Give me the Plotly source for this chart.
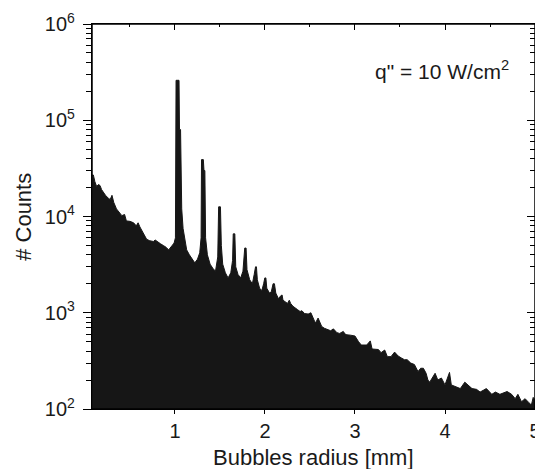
import plotly.graph_objects as go

# Bubble radius [mm]
radius_mm = [
    0.080, 0.093, 0.110, 0.130, 0.150, 0.167, 0.185, 0.200, 0.230, 0.260,
    0.280, 0.300, 0.320, 0.350, 0.380, 0.410, 0.440, 0.460, 0.500, 0.540,
    0.570, 0.590, 0.610, 0.630, 0.660, 0.685, 0.720, 0.760, 0.780, 0.810,
    0.840, 0.870, 0.900, 0.930, 0.960, 0.990, 1.005, 1.012, 1.045, 1.050,
    1.062, 1.068, 1.075, 1.090, 1.100, 1.130, 1.160, 1.185, 1.220, 1.250,
    1.275, 1.290, 1.295, 1.315, 1.322, 1.332, 1.340, 1.360, 1.390, 1.420,
    1.450, 1.475, 1.485, 1.505, 1.515, 1.530, 1.560, 1.590, 1.620, 1.640,
    1.647, 1.665, 1.675, 1.700, 1.730, 1.755, 1.775, 1.790, 1.800, 1.830,
    1.860, 1.880, 1.895, 1.905, 1.915, 1.940, 1.965, 1.985, 1.998, 2.010,
    2.020, 2.050, 2.070, 2.090, 2.105, 2.120, 2.150, 2.175, 2.190, 2.200,
    2.220, 2.250, 2.270, 2.285, 2.310, 2.340, 2.360, 2.390, 2.410, 2.440,
    2.480, 2.510, 2.530, 2.560, 2.590, 2.610, 2.630, 2.660, 2.700, 2.730,
    2.760, 2.780, 2.800, 2.830, 2.870, 2.890, 2.910, 2.950, 2.980, 3.000,
    3.040, 3.070, 3.130, 3.170, 3.190, 3.220, 3.260, 3.290, 3.330, 3.360,
    3.400, 3.440, 3.480, 3.520, 3.550, 3.580, 3.620, 3.660, 3.700, 3.730,
    3.760, 3.790, 3.810, 3.830, 3.870, 3.890, 3.920, 3.960, 4.000, 4.050,
    4.070, 4.130, 4.170, 4.220, 4.260, 4.300, 4.350, 4.390, 4.460, 4.520,
    4.560, 4.610, 4.690, 4.740, 4.780, 4.810, 4.850, 4.890, 4.930, 4.960,
    4.980, 5.000,
]

# Number of counts
counts = [
    27000, 27000, 23000, 20500, 21500, 21000, 19000, 18000, 16500, 15500,
    15000, 16600, 14000, 12000, 11000, 10200, 10500, 9000, 8900, 8600,
    8000, 8600, 7800, 7200, 6500, 5800, 5600, 5500, 5700, 5500,
    5200, 5000, 4800, 4500, 4900, 5300, 6000, 260000, 260000, 80000,
    80000, 20000, 12000, 7500, 6500, 4500, 4000, 3700, 3300, 3600,
    4200, 6000, 39000, 39000, 30000, 30000, 6000, 4000, 3200, 2900,
    2700, 3800, 12600, 12600, 5000, 3200, 2600, 2300, 2600, 3500,
    6600, 6600, 3000, 2500, 2300, 2700, 4700, 4700, 2800, 2200,
    2000, 2500, 3000, 3000, 2200, 1800, 1700, 2000, 2300, 2300,
    1800, 1600, 1650, 2000, 2000, 1600, 1400, 1500, 1530, 1350,
    1300, 1250, 1350, 1250, 1170, 1100, 1080, 1030, 1050, 980,
    970, 1000, 900, 780, 880, 780, 720, 690, 660, 650,
    680, 640, 620, 610, 640, 600, 590, 585, 580, 573,
    500, 462, 462, 510, 420, 420, 415, 385, 410, 350,
    350, 390, 355, 337, 325, 325, 300, 290, 245, 265,
    265, 235, 200, 190, 215, 235, 200, 210, 178, 240,
    178, 170, 163, 190, 175, 163, 160, 150, 163, 142,
    150, 142, 152, 142, 128, 142, 119, 128, 117, 110,
    132, 125,
]

y_tickvals = [1e2, 1e3, 1e4, 1e5, 1e6]
y_ticktext = ["10<sup>2</sup>", "10<sup>3</sup>", "10<sup>4</sup>",
              "10<sup>5</sup>", "10<sup>6</sup>"]
x_tickvals = [1, 2, 3, 4, 5]
x_ticktext = ["1", "2", "3", "4", "5"]

FONT = "Liberation Sans, Arial, Helvetica, sans-serif"
INK = "#161616"
TXT = "#1a1a1a"
XR = [0.078, 5.0]
YR = [2, 6]

fig = go.Figure()
fig.add_trace(go.Scatter(
    x=radius_mm, y=counts, mode="lines",
    line=dict(color=INK, width=1),
    fill="tozeroy", fillcolor=INK,
    hoverinfo="skip", showlegend=False,
))
# same data on the mirrored (top/right) axes, invisible, so those axes render
fig.add_trace(go.Scatter(
    x=radius_mm, y=counts, mode="lines", xaxis="x2", yaxis="y2",
    line=dict(color="rgba(0,0,0,0)", width=0),
    hoverinfo="skip", showlegend=False,
))

# page body has an 8px margin: size the figure so the plot area lands at
# x 92..535, y 24..409 of the 543x469 window
fig.update_layout(
    width=535, height=461,
    margin=dict(l=84, r=8, t=16, b=60, autoexpand=False),
    paper_bgcolor="white", plot_bgcolor="white",
    font=dict(family=FONT, size=20, color=TXT),
    showlegend=False,
    xaxis=dict(
        range=XR, showgrid=False, zeroline=False, automargin=False,
        showline=True, mirror=True, linecolor="black", linewidth=1.2,
        ticks="outside", ticklen=4, tickcolor="black", tickwidth=1.2,
        tickvals=x_tickvals, ticktext=x_ticktext,
        tickfont=dict(size=20),
    ),
    yaxis=dict(
        type="log", range=YR, showgrid=False, zeroline=False, automargin=False,
        showline=True, mirror=True, linecolor="black", linewidth=1.2,
        ticks="outside", ticklen=8, tickcolor="black", tickwidth=1.2,
        tickvals=y_tickvals, ticktext=y_ticktext, ticklabelstandoff=4,
        tickfont=dict(size=20),
        minor=dict(ticks="outside", ticklen=5, tickcolor="black",
                   tickwidth=1, dtick="D1", showgrid=False),
    ),
    xaxis2=dict(
        overlaying="x", side="top", anchor="y", range=XR, automargin=False,
        showgrid=False, zeroline=False, showline=True,
        linecolor="black", linewidth=1.2,
        ticks="inside", ticklen=6, tickcolor="black", tickwidth=1.2,
        tickvals=[1, 2, 3, 4], showticklabels=False,
        minor=dict(ticks="inside", ticklen=3, tickcolor="black",
                   tickvals=[0.5, 1.5, 2.5, 3.5, 4.5], showgrid=False),
    ),
    yaxis2=dict(
        overlaying="y", side="right", anchor="x", type="log", range=YR,
        automargin=False,
        showgrid=False, zeroline=False, showline=True,
        linecolor="black", linewidth=1.2,
        ticks="inside", ticklen=8, tickcolor="black", tickwidth=1.2,
        tickvals=y_tickvals, showticklabels=False,
        minor=dict(ticks="inside", ticklen=5, tickcolor="black",
                   tickwidth=1, dtick="D1", showgrid=False),
    ),
    shapes=[dict(type="rect", xref="paper", yref="paper",
                 x0=0, x1=1, y0=0, y1=1, layer="above",
                 line=dict(color="black", width=1.5))],
    annotations=[
        dict(text="q\" = 10 W/cm<sup>2</sup>", xref="paper", yref="paper",
             x=0.945, y=0.88, xanchor="right", yanchor="middle",
             showarrow=False, font=dict(size=21, family=FONT, color=TXT)),
        dict(text="Bubbles radius [mm]", xref="paper", yref="paper",
             x=0.5, y=-0.127, xanchor="center", yanchor="middle",
             showarrow=False, font=dict(size=22, family=FONT, color=TXT)),
        dict(text="# Counts", xref="paper", yref="paper", textangle=-90,
             x=-0.155, y=0.5, xanchor="center", yanchor="middle",
             showarrow=False, font=dict(size=22, family=FONT, color=TXT)),
    ],
)

fig.write_html("out.html")
